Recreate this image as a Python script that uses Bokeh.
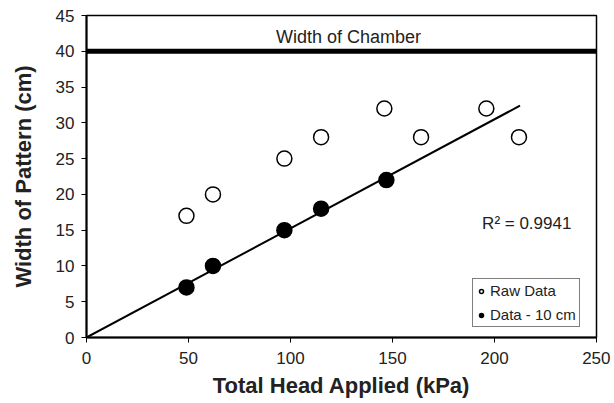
from bokeh.plotting import figure
from bokeh.models import ColumnDataSource, Legend, LegendItem, Range1d, FixedTicker
from bokeh.core.properties import value
from bokeh.embed import file_html
from bokeh.resources import INLINE

# Data
raw_x = [49, 62, 97, 115, 146, 164, 196, 212]
raw_y = [17, 20, 25, 28, 32, 28, 32, 28]
adj_x = [49, 62, 97, 115, 147]
adj_y = [7, 10, 15, 18, 22]
trend_x = [0, 212.5]
trend_y = [0, 32.4]
chamber_x = [0, 250]
chamber_y = [40, 40]
x_ticks = [0, 50, 100, 150, 200, 250]
y_ticks = [0, 5, 10, 15, 20, 25, 30, 35, 40, 45]
r2_label = "R\u00b2 = 0.9941"
chamber_label = "Width of Chamber"

FONT = "Liberation Sans"

p = figure(width=610, height=400, output_backend="svg", toolbar_location=None,
           x_range=Range1d(0, 250), y_range=Range1d(0, 45),
           min_border_left=86, min_border_right=14, min_border_top=15, min_border_bottom=61)
p.xgrid.visible = False
p.ygrid.visible = False
p.outline_line_color = "black"
p.outline_line_width = 1.5
p.background_fill_color = "white"
p.border_fill_color = "white"

for ax in (p.xaxis[0], p.yaxis[0]):
    ax.axis_line_width = 2
    ax.axis_line_color = "black"
    ax.major_tick_line_color = "black"
    ax.major_tick_line_width = 1
    ax.major_tick_out = 5
    ax.major_tick_in = 0
    ax.minor_tick_line_color = None
    ax.major_label_text_font = FONT
    ax.major_label_text_font_size = "17px"
    ax.major_label_text_color = "#222222"
    ax.axis_label_text_font = FONT
    ax.axis_label_text_font_style = "bold"
    ax.axis_label_text_font_size = "22px"
    ax.axis_label_text_color = "#222222"

p.xaxis[0].ticker = FixedTicker(ticks=x_ticks)
p.yaxis[0].ticker = FixedTicker(ticks=y_ticks)
p.xaxis[0].axis_label = "Total Head Applied (kPa)"
p.yaxis[0].axis_label = "Width of Pattern (cm)"
p.xaxis[0].major_label_standoff = 9
p.yaxis[0].major_label_standoff = 7
p.xaxis[0].axis_label_standoff = 6
p.yaxis[0].axis_label_standoff = 17

# chamber line
p.line(chamber_x, chamber_y, line_color="black", line_width=5)
p.text(x=[128.4], y=[42.0], text=[chamber_label], text_font=value(FONT), text_font_size="18px",
       text_align="center", text_baseline="middle", text_color="#222222")

# trend line
p.line(trend_x, trend_y, line_color="black", line_width=2)

r_raw = p.scatter(raw_x, raw_y, marker="circle", size=15, fill_color="white",
                  line_color="black", line_width=1.5)
r_adj = p.scatter(adj_x, adj_y, marker="circle", size=15, fill_color="black",
                  line_color="black", line_width=1.5)

p.text(x=[237.7], y=[16.0], text=[r2_label], text_font=value(FONT), text_font_size="17px",
       text_align="right", text_baseline="middle", text_color="#222222")

legend = Legend(items=[LegendItem(label="Raw Data", renderers=[r_raw]),
                       LegendItem(label="Data - 10 cm", renderers=[r_adj])],
                location=(386, 10), orientation="vertical")
legend.label_text_font = FONT
legend.label_text_font_size = "15px"
legend.label_text_color = "#222222"
legend.glyph_width = 10
legend.glyph_height = 16
legend.label_standoff = 4
legend.spacing = 7
legend.padding = 3
legend.margin = 0
legend.border_line_color = "black"
legend.border_line_width = 1
legend.background_fill_alpha = 1
p.add_layout(legend, "center")

open("out.html", "w").write(file_html(p, INLINE))
